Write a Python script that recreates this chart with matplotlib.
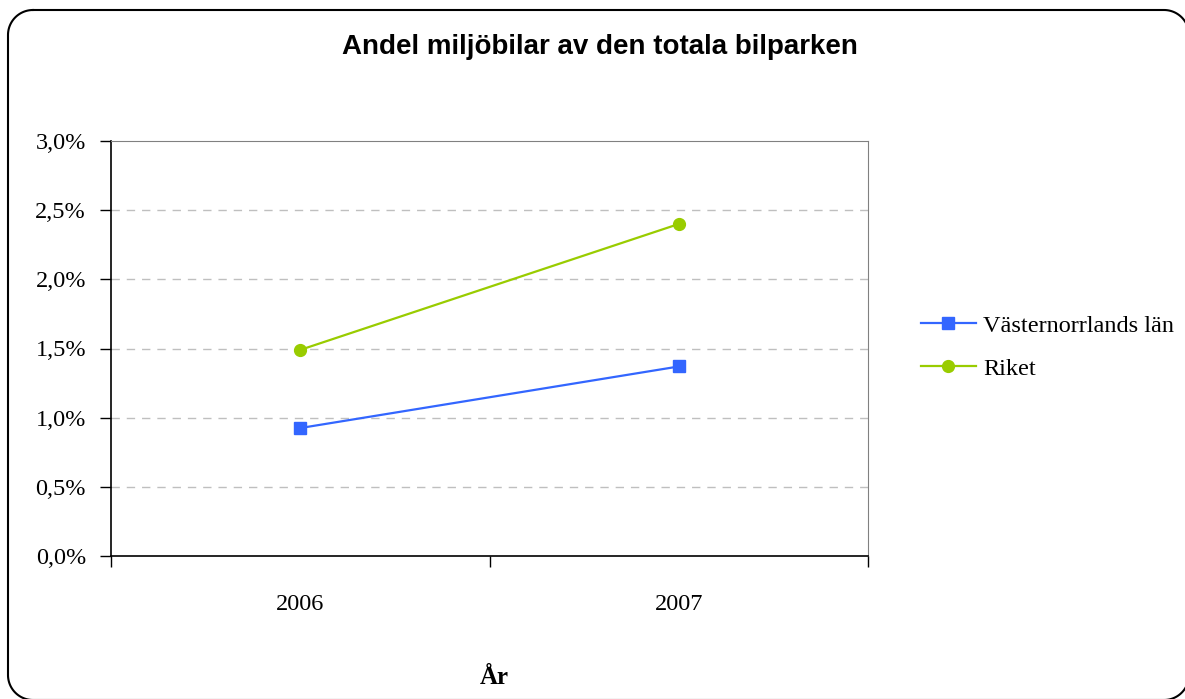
import matplotlib
matplotlib.use("Agg")
import numpy as np
import matplotlib.pyplot as plt
from matplotlib.lines import Line2D
from matplotlib.transforms import IdentityTransform
from matplotlib.ticker import FuncFormatter, FixedLocator

years = ["2006", "2007"]
vasternorrland = [0.925, 1.37]
riket = [1.49, 2.40]
series_names = ["Västernorrlands län", "Riket"]
yticks = [0.0, 0.5, 1.0, 1.5, 2.0, 2.5, 3.0]

W, H = 1185, 699
fig = plt.figure(figsize=(W / 100, H / 100), dpi=100)

# outer rounded border, built as a polyline in pixel coordinates (origin bottom-left)
x0, x1 = 8, 1189
y_top, y_bot = H - 10, H - 700
r = 25
pts = []
def arc(cx, cy, a0, a1):
    t = np.linspace(np.radians(a0), np.radians(a1), 30)
    return list(zip(cx + r * np.cos(t), cy + r * np.sin(t)))
pts += arc(x0 + r, y_top - r, 90, 180)
pts += arc(x0 + r, y_bot + r, 180, 270)
pts += arc(x1 - r, y_bot + r, 270, 360)
pts += arc(x1 - r, y_top - r, 0, 90)
pts.append(pts[0])
px, py = zip(*pts)
fig.add_artist(Line2D(px, py, transform=IdentityTransform(), color="black",
                      linewidth=1.5, solid_joinstyle="round"))

ax = fig.add_axes([111/W, 1 - 556/H, (868 - 111)/W, (556 - 141)/H])

x = list(range(len(years)))
ax.plot(x, vasternorrland, color="#3366FF", linewidth=1.6, marker="s",
        markersize=8, label=series_names[0], zorder=3)
ax.plot(x, riket, color="#99CC00", linewidth=1.6, marker="o",
        markersize=8.5, label=series_names[1], zorder=3)

ax.set_xlim(-0.5, 1.5)
ax.set_ylim(0, 3.0)
ax.set_yticks(yticks)
ax.yaxis.set_major_formatter(FuncFormatter(lambda v, p: f"{v:.1f}".replace(".", ",") + "%"))

ax.set_xticks(x)
ax.set_xticklabels(years)
ax.xaxis.set_minor_locator(FixedLocator([-0.5, 0.5, 1.5]))
ax.tick_params(axis="x", which="major", length=0, pad=27)
ax.tick_params(axis="x", which="minor", length=8, width=1, color="black", direction="out")
ax.tick_params(axis="y", length=8, width=1, color="black", direction="out", pad=10)

serif = "Liberation Serif"
for lab in ax.get_xticklabels() + ax.get_yticklabels():
    lab.set_fontfamily(serif)
    lab.set_fontsize(17.5)

for y in yticks[1:-1]:
    ax.axhline(y, color="#BFBFBF", linewidth=1, linestyle=(0, (6, 5)), zorder=1)

ax.spines["left"].set_color("black")
ax.spines["bottom"].set_color("black")
ax.spines["left"].set_linewidth(1.2)
ax.spines["bottom"].set_linewidth(1.2)
ax.spines["top"].set_color("#808080")
ax.spines["right"].set_color("#808080")

fig.text(600/W, 1 - 47/H, "Andel miljöbilar av den totala bilparken",
         ha="center", va="center", fontsize=20, fontweight="bold",
         fontfamily="Liberation Sans")
fig.text(494/W, 1 - 677/H, "År", ha="center", va="center",
         fontsize=18, fontweight="bold", fontfamily=serif)

leg = fig.legend(loc="upper left", bbox_to_anchor=(899/W, 1 - 293/H),
                 frameon=False, prop={"family": serif, "size": 17.5},
                 handlelength=2.25, handletextpad=0.3, labelspacing=0.85)

fig.savefig("out.png", dpi=100)
